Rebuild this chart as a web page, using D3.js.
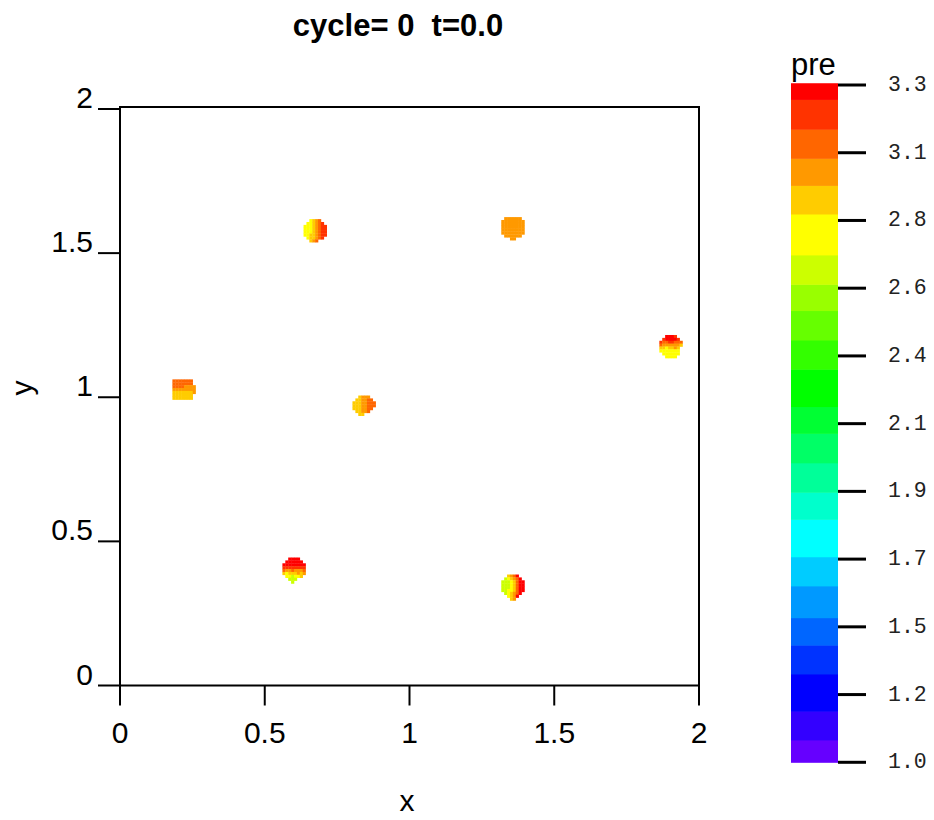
<!DOCTYPE html>
<html>
<head>
<meta charset="utf-8">
<script src="https://cdn.jsdelivr.net/npm/d3@7"></script>
<style>
  html, body { margin: 0; padding: 0; background: #fff; }
  svg { display: block; }
</style>
</head>
<body>
<svg id="chart" width="934" height="820"></svg>
<script>
// ---- data ---------------------------------------------------------------
const title = "cycle= 0  t=0.0";
const varName = "pre";

const xTicks = [0, 0.5, 1, 1.5, 2];
const xTickLabels = ["0", "0.5", "1", "1.5", "2"];
const yTicks = [0, 0.5, 1, 1.5, 2];
const yTickLabels = ["0", "0.5", "1", "1.5", "2"];

// colour table: band boundaries (pressure) and band colours, low -> high
const levelEdges = [1.000, 1.076, 1.174, 1.300, 1.398, 1.491, 1.599, 1.698,
  1.825, 1.917, 2.017, 2.117, 2.208, 2.335, 2.434, 2.534, 2.623, 2.723,
  2.862, 2.959, 3.051, 3.150, 3.251, 3.306];
const levelColors = ["#6600ff", "#3300ff", "#0000ff", "#0033ff", "#0066ff",
  "#0099ff", "#00ccff", "#00ffff", "#00ffcc", "#00ff99", "#00ff66", "#00ff33",
  "#00ff00", "#33ff00", "#66ff00", "#99ff00", "#ccff00", "#ffff00", "#ffcc00",
  "#ff9900", "#ff6600", "#ff3300", "#ff0000"];

const cbTicks = [1.0, 1.23, 1.46, 1.69, 1.92, 2.15, 2.38, 2.61, 2.84, 3.07, 3.3];
const cbTickLabels = ["1.0", "1.2", "1.5", "1.7", "1.9", "2.1", "2.4", "2.6", "2.8", "3.1", "3.3"];

// pressure of each cell code used in the droplet grids ('.' = no data)
const cellCodes = { R: 3.28, r: 3.20, o: 3.10, O: 3.00, a: 2.91, Y: 2.79, g: 2.67 };
const cellSize = 0.01;

// droplets: centre (x, y) and their cell grids, top row first
const dropX = [0.674, 1.357, 1.903, 0.221, 0.843, 0.601, 1.357];
const dropY = [1.578, 1.585, 1.176, 1.027, 0.971, 0.399, 0.340];
const dropCells = [
  ["..YaOo..",
   ".YYaOor.",
   "YYYaOorr",
   "YYYaOorr",
   "YYYaOorr",
   "YYaaOorr",
   ".YaaOor.",
   "..aOo..."],
  [".OOOOOO.",
   "OOOOOOOO",
   "OOOOOOOO",
   "OOOOOOOO",
   "OOOOOOOO",
   "OOOOOOOO",
   ".OOOOOO.",
   "...OO..."],
  ["..RRRr..",
   ".rRRRRr.",
   "roorrooo",
   "oOOOOOOa",
   "aaYaaOa.",
   "YYYYYYY.",
   ".YYYYYY.",
   "..YYYY.."],
  ["ooooooo.",
   "ooooooo.",
   "ooooOOOO",
   "OOOOOOOO",
   "aaaaaaaO",
   "aaaaaaa.",
   "aaaaaaa."],
  ["..aOOO..",
   ".aaOOoo.",
   "aaaOOooo",
   "aaaOOooo",
   "aaaOOoo.",
   ".aaOOo..",
   "..aa...."],
  ["..RRRR..",
   ".RRRRRR.",
   "RRRRRRRR",
   "rrrrrrrr",
   "oOOoOOOo",
   "aYaaaOaO",
   ".YYgYYa.",
   "..ggg...",
   "...g...."],
  ["..aOoR..",
   ".gYaOoR.",
   "gggYaoRR",
   "gggYaoRR",
   "gggYaoRR",
   "ggYYaoRR",
   ".gYaOoR.",
   "..YaOR..",
   "...aO..."]
];

// ---- layout -------------------------------------------------------------
const svg = d3.select("#chart");
const plot = { left: 120, right: 699, top: 107, bottom: 685.5 };
const x = d3.scaleLinear().domain([0, 2]).range([plot.left, plot.right]);
const y = d3.scaleLinear().domain([0, 2]).range([plot.bottom, 109]);

const color = d3.scaleThreshold()
  .domain(levelEdges.slice(1, -1))
  .range(levelColors);

const font = "'Liberation Sans', Arial, Helvetica, sans-serif";
const monoFont = "'Liberation Mono', 'Courier New', monospace";

// ---- field cells --------------------------------------------------------
const cells = [];
dropCells.forEach((rows, i) => {
  const h = rows.length, w = rows[0].length;
  rows.forEach((row, r) => {
    [...row].forEach((ch, c) => {
      if (ch === ".") return;
      cells.push({
        x0: dropX[i] + (c - w / 2) * cellSize,
        y1: dropY[i] + (h / 2 - r) * cellSize,
        v: cellCodes[ch]
      });
    });
  });
});

svg.append("g")
  .selectAll("rect")
  .data(cells)
  .join("rect")
  .attr("x", d => x(d.x0))
  .attr("y", d => y(d.y1))
  .attr("width", x(cellSize) - x(0) + 0.3)
  .attr("height", y(0) - y(cellSize) + 0.3)
  .attr("fill", d => color(d.v));

// ---- frame & axes -------------------------------------------------------
svg.append("rect")
  .attr("x", plot.left).attr("y", plot.top)
  .attr("width", plot.right - plot.left)
  .attr("height", plot.bottom - plot.top)
  .attr("fill", "none")
  .attr("stroke", "#000")
  .attr("stroke-width", 2);

const gx = svg.append("g");
gx.selectAll("line")
  .data(xTicks)
  .join("line")
  .attr("x1", d => x(d)).attr("x2", d => x(d))
  .attr("y1", plot.bottom).attr("y2", plot.bottom + 20)
  .attr("stroke", "#000").attr("stroke-width", 2);
gx.selectAll("text")
  .data(xTicks)
  .join("text")
  .attr("x", d => x(d))
  .attr("y", 743)
  .attr("text-anchor", "middle")
  .attr("font-family", font)
  .attr("font-size", 30)
  .text((d, i) => xTickLabels[i]);

const gy = svg.append("g");
gy.selectAll("line")
  .data(yTicks)
  .join("line")
  .attr("x1", plot.left - 22).attr("x2", plot.left)
  .attr("y1", d => y(d)).attr("y2", d => y(d))
  .attr("stroke", "#000").attr("stroke-width", 2);
gy.selectAll("text")
  .data(yTicks)
  .join("text")
  .attr("x", 93)
  .attr("y", d => y(d) - 1)
  .attr("text-anchor", "end")
  .attr("font-family", font)
  .attr("font-size", 30)
  .text((d, i) => yTickLabels[i]);

svg.append("text")
  .attr("x", 407).attr("y", 811)
  .attr("text-anchor", "middle")
  .attr("font-family", font).attr("font-size", 30)
  .text("x");

svg.append("text")
  .attr("transform", "translate(32,388) rotate(-90)")
  .attr("text-anchor", "middle")
  .attr("font-family", font).attr("font-size", 30)
  .text("y");

svg.append("text")
  .attr("x", 398).attr("y", 36)
  .attr("text-anchor", "middle")
  .attr("font-family", font).attr("font-size", 31)
  .attr("font-weight", "bold")
  .style("white-space", "pre")
  .text(title);

// ---- colour bar ---------------------------------------------------------
const cb = { left: 791, right: 838 };
const cbY = d3.scaleLinear().domain([1.0, 3.3]).range([762.3, 85]);

const bands = levelColors.map((c, i) => ({ lo: levelEdges[i], hi: levelEdges[i + 1], c }));
svg.append("g")
  .selectAll("rect")
  .data(bands)
  .join("rect")
  .attr("x", cb.left)
  .attr("y", d => cbY(d.hi))
  .attr("width", cb.right - cb.left)
  .attr("height", d => cbY(d.lo) - cbY(d.hi) + 0.5)
  .attr("fill", d => d.c);

const gcb = svg.append("g");
gcb.selectAll("line")
  .data(cbTicks)
  .join("line")
  .attr("x1", cb.right).attr("x2", cb.right + 28)
  .attr("y1", d => cbY(d)).attr("y2", d => cbY(d))
  .attr("stroke", "#000").attr("stroke-width", 3);
gcb.selectAll("text")
  .data(cbTicks)
  .join("text")
  .attr("x", 888)
  .attr("y", d => cbY(d))
  .attr("dominant-baseline", "central")
  .attr("font-family", monoFont)
  .attr("font-size", 21.5)
  .attr("fill", "#222")
  .text((d, i) => cbTickLabels[i]);

svg.append("text")
  .attr("x", 791).attr("y", 75)
  .attr("font-family", font).attr("font-size", 31)
  .text(varName);
</script>
</body>
</html>
